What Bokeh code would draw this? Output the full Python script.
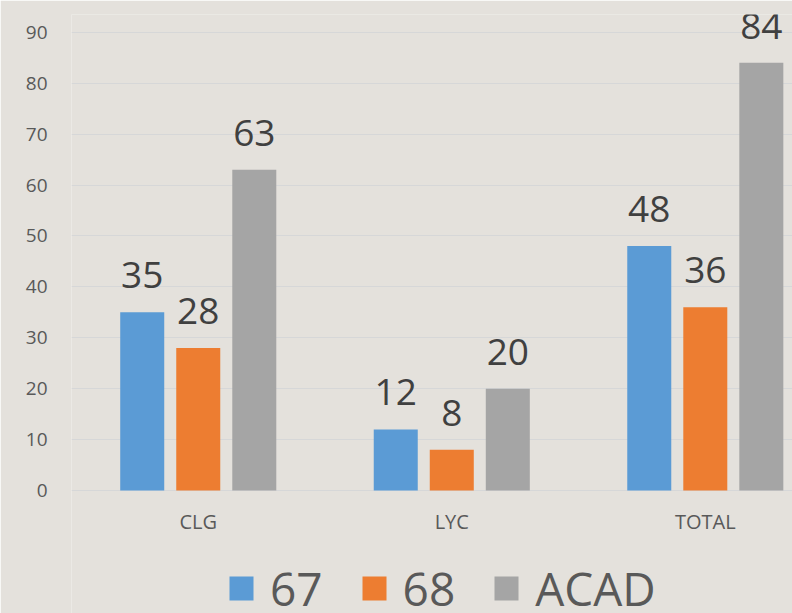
from bokeh.plotting import figure
from bokeh.models import ColumnDataSource, Range1d, FixedTicker, Legend, LegendItem
from bokeh.transform import dodge
from bokeh.core.properties import value
from bokeh.embed import file_html
from bokeh.resources import INLINE

categories = ["CLG", "LYC", "TOTAL"]
series_names = ["67", "68", "ACAD"]
s67 = [35, 12, 48]
s68 = [28, 8, 36]
acad = [63, 20, 84]
y_ticks = [0, 10, 20, 30, 40, 50, 60, 70, 80, 90]
colors = ["#5B9BD5", "#ED7D31", "#A5A5A5"]

xpos = list(range(len(categories)))
src = ColumnDataSource(dict(x=xpos, cat=categories, base=[0] * len(categories),
                            s67=s67, s68=s68, acad=acad,
                            t67=[str(v) for v in s67], t68=[str(v) for v in s68],
                            tacad=[str(v) for v in acad]))

BG = "#e4e1dc"
FONT = "Open Sans"

# frame spans from the top margin to the bottom of the page; the value axis
# starts below zero so the category labels and legend fit inside the frame
p = figure(width=792, height=613, output_backend="svg", toolbar_location=None,
           x_range=Range1d(-0.5, 2.344), y_range=Range1d(-24.17, 93.5),
           x_axis_location=None,
           min_border_left=71, min_border_right=0, min_border_top=14, min_border_bottom=0)
p.background_fill_color = BG
p.border_fill_color = BG
p.outline_line_color = None

offsets = [-0.221, 0.0, 0.221]
fields = ["s67", "s68", "acad"]
tfields = ["t67", "t68", "tacad"]
renderers = []
for f, tf, off, c in zip(fields, tfields, offsets, colors):
    r = p.vbar(x=dodge("x", off), top=f, width=0.1736, bottom=0, source=src,
               fill_color=c, line_color=None)
    renderers.append(r)
    p.text(x=dodge("x", off), y=f, text=tf, source=src, text_align="center",
           text_baseline="alphabetic", y_offset=-37, text_font=value(FONT),
           text_font_size="37px", text_color="#404040")

# category labels under each group
p.text(x="x", y="base", text="cat", source=src, text_align="center",
       text_baseline="middle", y_offset=31, text_font=value(FONT),
       text_font_size="20px", text_color="#595959")

p.yaxis.ticker = FixedTicker(ticks=y_ticks)
p.yaxis.axis_line_color = None
p.yaxis.major_tick_line_color = None
p.yaxis.minor_tick_line_color = None
p.yaxis.major_label_text_font = FONT
p.yaxis.major_label_text_color = "#595959"
p.yaxis.major_label_text_font_size = "19px"
p.yaxis.major_label_standoff = 18
p.ygrid.ticker = FixedTicker(ticks=y_ticks)
p.xgrid.grid_line_color = None
p.ygrid.grid_line_color = "#d6d7d8"
p.ygrid.grid_line_width = 1

legend = Legend(items=[LegendItem(label=n, renderers=[r]) for n, r in zip(series_names, renderers)],
                orientation="horizontal", location=(155, -6),
                glyph_width=30, glyph_height=30, label_standoff=14, spacing=36,
                label_text_font=FONT, label_text_font_size="46px", label_text_color="#595959",
                background_fill_alpha=0, border_line_color=None,
                padding=0, margin=0)
p.add_layout(legend)

open("out.html", "w").write(file_html(p, INLINE))
